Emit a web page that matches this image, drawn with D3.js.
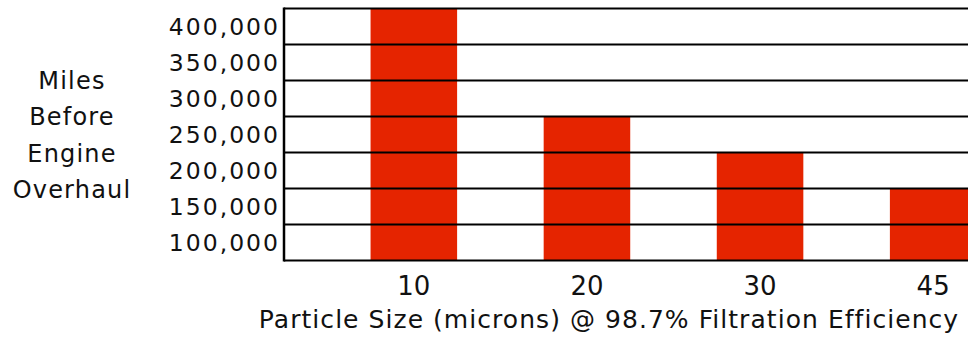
<!DOCTYPE html>
<html>
<head>
<meta charset="utf-8">
<script src="https://cdn.jsdelivr.net/npm/d3@7/dist/d3.min.js"></script>
<style>
  html, body { margin: 0; padding: 0; background: #fff; }
  svg { display: block; }
  text { font-family: "DejaVu Sans", sans-serif; fill: #111; }
</style>
</head>
<body>
<svg id="chart" width="968" height="337"></svg>
<script>
// Particle size categories (microns) and engine life in miles
const particleSizes = ["10", "20", "30", "45"];
const milesBeforeOverhaul = [400000, 250000, 200000, 150000];
const gridValues = [50000, 100000, 150000, 200000, 250000, 300000, 350000, 400000];
const tickLabels = [100000, 150000, 200000, 250000, 300000, 350000, 400000];
const yTitleLines = ["Miles", "Before", "Engine", "Overhaul"];
const xTitle = "Particle Size (microns) @ 98.7% Filtration Efficiency";

const W = 968, H = 337;
const plot = { left: 284, top: 8.5, bottom: 260.5, right: 1063 };

const svg = d3.select("#chart");

const y = d3.scaleLinear().domain([50000, 400000]).range([plot.bottom, plot.top]);
const x = d3.scaleBand()
  .domain(particleSizes)
  .range([plot.left, plot.right])
  .paddingInner(0.5)
  .paddingOuter(0.5);

// bars
svg.append("g").selectAll("rect")
  .data(particleSizes.map((p, i) => ({ p, v: milesBeforeOverhaul[i] })))
  .join("rect")
  .attr("x", d => x(d.p))
  .attr("width", x.bandwidth())
  .attr("y", d => y(d.v))
  .attr("height", d => y(50000) - y(d.v))
  .attr("fill", "#e52400");

// horizontal grid lines drawn over the bars
svg.append("g").selectAll("line")
  .data(gridValues)
  .join("line")
  .attr("x1", plot.left)
  .attr("x2", W)
  .attr("y1", d => y(d))
  .attr("y2", d => y(d))
  .attr("stroke", "#000")
  .attr("stroke-width", 2.2);

// left axis line
svg.append("line")
  .attr("x1", plot.left).attr("x2", plot.left)
  .attr("y1", plot.top - 1).attr("y2", plot.bottom + 1)
  .attr("stroke", "#000")
  .attr("stroke-width", 2.5);

// y tick labels, each sitting in the band just beneath its value line
const halfStep = (y(50000) - y(100000)) / 2;
const fmt = d3.format(",");
svg.append("g").selectAll("text")
  .data(tickLabels)
  .join("text")
  .attr("x", 280)
  .attr("y", d => y(d) + halfStep + 8.5)
  .attr("text-anchor", "end")
  .attr("font-size", 23.5)
  .attr("letter-spacing", 2)
  .text(d => fmt(d));

// y axis title
svg.append("g").selectAll("text")
  .data(yTitleLines)
  .join("text")
  .attr("x", 72)
  .attr("y", (d, i) => 89 + i * 36.3)
  .attr("text-anchor", "middle")
  .attr("font-size", 24)
  .attr("letter-spacing", 1.2)
  .text(d => d);

// x tick labels
svg.append("g").selectAll("text")
  .data(particleSizes)
  .join("text")
  .attr("x", d => x(d) + x.bandwidth() / 2)
  .attr("y", 295)
  .attr("text-anchor", "middle")
  .attr("font-size", 26)
  .text(d => d);

// x axis title
svg.append("text")
  .attr("x", 609)
  .attr("y", 328)
  .attr("text-anchor", "middle")
  .attr("font-size", 25)
  .attr("letter-spacing", 1.05)
  .text(xTitle);
</script>
</body>
</html>
